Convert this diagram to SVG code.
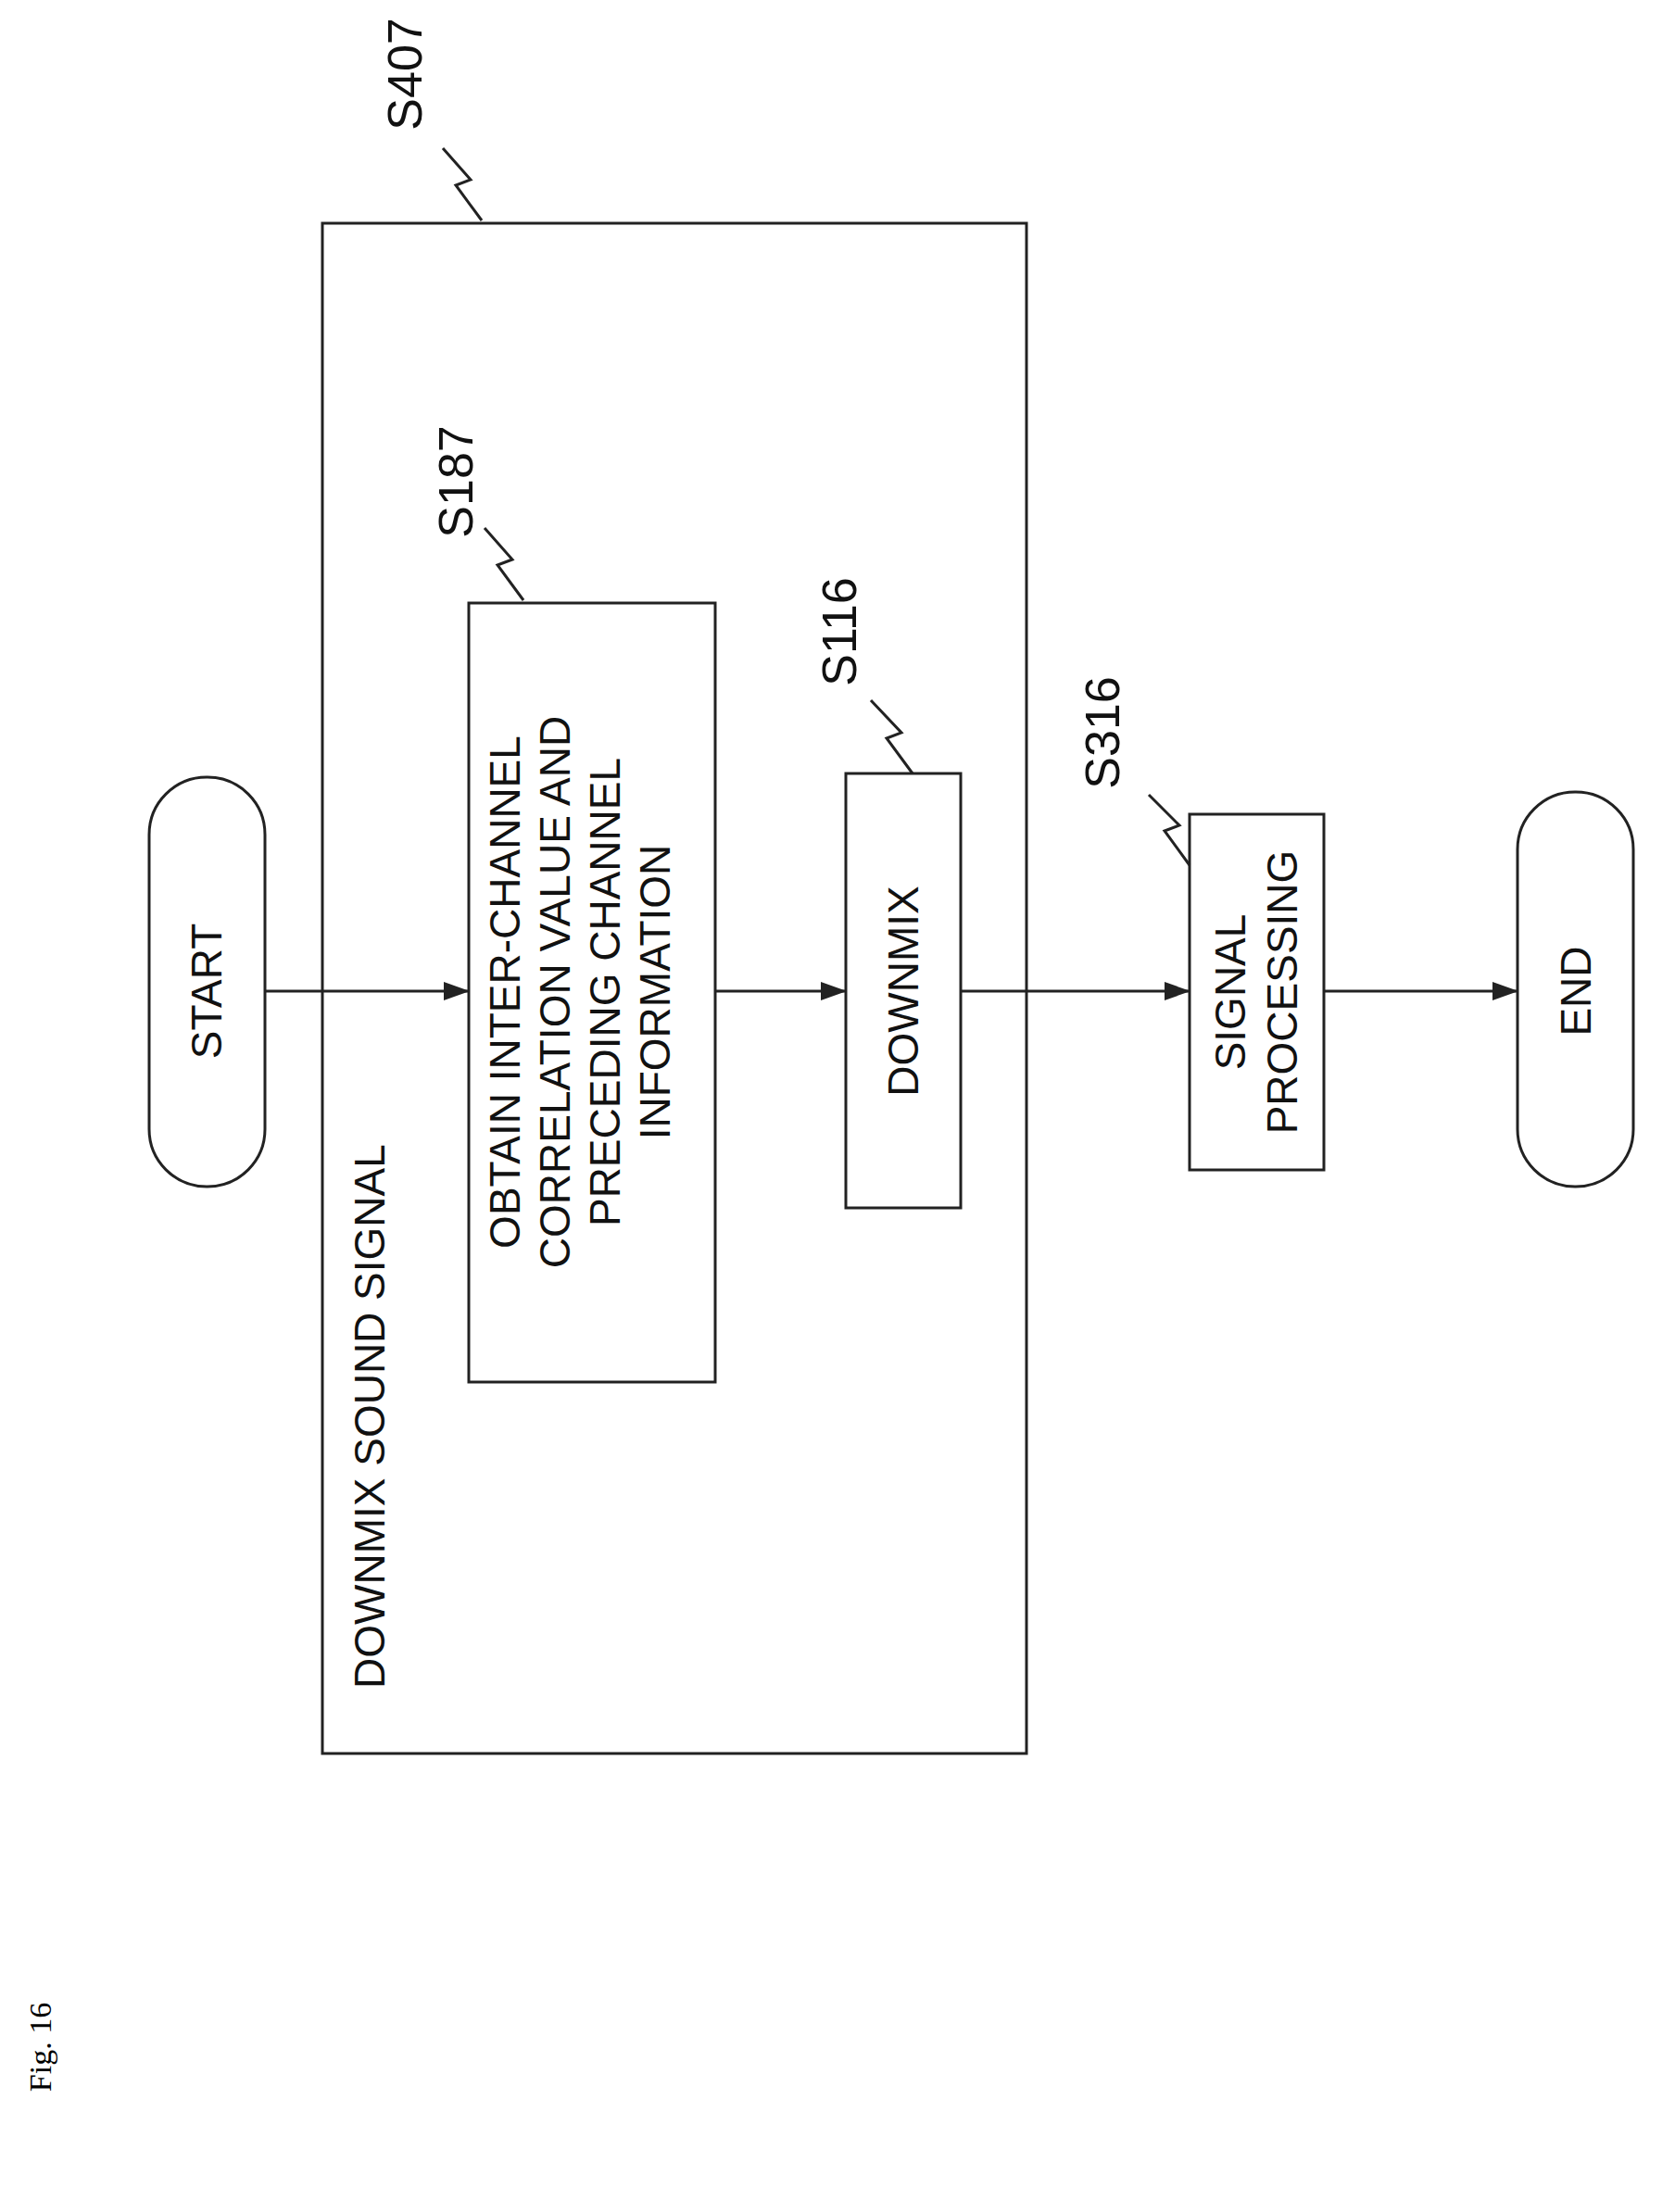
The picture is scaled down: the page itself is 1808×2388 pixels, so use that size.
<svg xmlns="http://www.w3.org/2000/svg" width="1808" height="2388" viewBox="0 0 1808 2388">
<style>
.b{fill:#fff;stroke:#222;stroke-width:3}
.t{font-family:"Liberation Sans",Arial,sans-serif;font-size:46px;fill:#111;text-anchor:middle}
.s{font-size:52px}
.l{fill:none;stroke:#222;stroke-width:3}
</style>
<defs><marker id="a" markerWidth="28" markerHeight="20" refX="27" refY="10" orient="auto" markerUnits="userSpaceOnUse"><path d="M0,0 L28,10 L0,20 Z" fill="#222"/></marker></defs>
<rect width="1808" height="2388" fill="#fff"/>
<g id="group_s407">
<rect class="b" x="348" y="241" width="760" height="1652" fill="none"/>
<text class="t" transform="translate(415,1823) rotate(-90)" style="text-anchor:start">DOWNMIX SOUND SIGNAL</text>
<text class="t s" transform="translate(455,80) rotate(-90)">S407</text>
<path class="l" d="M520,238 L492,200 L508,194 L478,160"/>
</g>
<g id="start"><rect class="b" x="161" y="839" width="125" height="442" rx="62"/><text class="t" transform="translate(239,1070) rotate(-90)">START</text></g>
<g id="s187"><rect class="b" x="506" y="651" width="266" height="841"/>
<text class="t" transform="translate(639,1071) rotate(-90)"><tspan x="0" y="-78">OBTAIN INTER-CHANNEL</tspan><tspan x="0" y="-24">CORRELATION VALUE AND</tspan><tspan x="0" y="30">PRECEDING CHANNEL</tspan><tspan x="0" y="84">INFORMATION</tspan></text>
<text class="t s" transform="translate(510,520) rotate(-90)">S187</text>
<path class="l" d="M565,648 L537,610 L553,604 L523,570"/></g>
<g id="s116"><rect class="b" x="913" y="835" width="124" height="469"/><text class="t" transform="translate(991,1070) rotate(-90)">DOWNMIX</text>
<text class="t s" transform="translate(924,682) rotate(-90)">S116</text>
<path class="l" d="M985,835 L957,797 L973,791 L940,756"/></g>
<g id="s316"><rect class="b" x="1284" y="879" width="145" height="384"/>
<text class="t" transform="translate(1356,1071) rotate(-90)"><tspan x="0" y="-12">SIGNAL</tspan><tspan x="0" y="44">PROCESSING</tspan></text>
<text class="t s" transform="translate(1208,791) rotate(-90)">S316</text>
<path class="l" d="M1284,934 L1257,897 L1273,891 L1240,858"/></g>
<g id="end"><rect class="b" x="1638" y="855" width="125" height="426" rx="62"/><text class="t" transform="translate(1717,1070) rotate(-90)">END</text></g>
<g id="connectors">
<path class="l" marker-end="url(#a)" d="M286,1070 H506"/>
<path class="l" marker-end="url(#a)" d="M772,1070 H913"/>
<path class="l" marker-end="url(#a)" d="M1037,1070 H1284"/>
<path class="l" marker-end="url(#a)" d="M1429,1070 H1638"/>
</g>
<text transform="translate(55,2210) rotate(-90)" style="font-family:'Liberation Serif',serif;font-size:34px;text-anchor:middle">Fig. 16</text>
</svg>
